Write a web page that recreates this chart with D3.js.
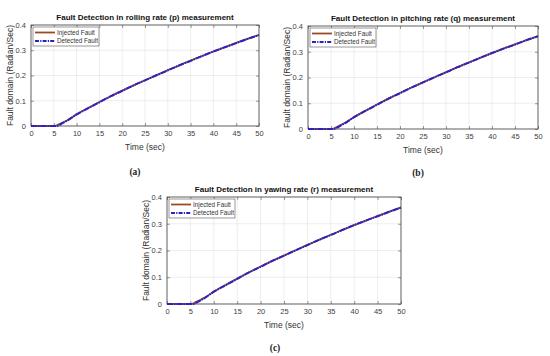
<!DOCTYPE html>
<html>
<head>
<meta charset="utf-8">
<script src="https://cdnjs.cloudflare.com/ajax/libs/d3/7.8.5/d3.min.js"></script>
<style>
  body { margin: 0; background: #fff; }
  svg { font-family: "Liberation Sans", Arial, sans-serif; }
  .tick text { fill: #404040; font-size: 7.5px; }
  .grid line { stroke: #e3e3e3; stroke-width: 0.6; }
</style>
</head>
<body>
<div id="chart"></div>
<script>
// time axis (sec)
var time = [0, 2, 4, 5, 5.5, 6, 7, 8, 10, 12.5, 15, 17.5, 20, 22.5, 25, 27.5, 30, 32.5, 35, 37.5, 40, 42.5, 45, 47.5, 50];
// injected fault (Radian/Sec)
var injected = [0, 0, 0, 0, 0.001, 0.006, 0.014, 0.023, 0.046, 0.071, 0.095, 0.118, 0.14, 0.161, 0.181, 0.201, 0.221, 0.24, 0.259, 0.277, 0.295, 0.312, 0.329, 0.345, 0.361];
// detected fault (Radian/Sec)
var detected = [0, 0, 0, 0, 0, 0.002, 0.012, 0.022, 0.046, 0.07, 0.094, 0.118, 0.139, 0.161, 0.181, 0.201, 0.22, 0.24, 0.258, 0.277, 0.295, 0.312, 0.328, 0.345, 0.36];

var xTicks = [0, 5, 10, 15, 20, 25, 30, 35, 40, 45, 50];
var yTicks = [0, 0.1, 0.2, 0.3, 0.4];

var panels = [
  { title: "Fault Detection in rolling rate (p) measurement", tag: "(a)", left: 31, top: 25, w: 228, h: 101, tagX: 135, tagY: 175 },
  { title: "Fault Detection in pitching rate (q) measurement", tag: "(b)", left: 308, top: 26, w: 230, h: 103, tagX: 418, tagY: 176 },
  { title: "Fault Detection in yawing rate (r) measurement", tag: "(c)", left: 167, top: 197, w: 234, h: 107, tagX: 275, tagY: 351 }
];

var svg = d3.select("#chart").append("svg")
  .attr("width", 550)
  .attr("height", 356);

function drawPanel(p) {
  var g = svg.append("g").attr("transform", "translate(" + p.left + "," + p.top + ")");
  var x = d3.scaleLinear().domain([0, 50]).range([0, p.w]);
  var y = d3.scaleLinear().domain([0, 0.4]).range([p.h, 0]);

  // grid
  g.append("g").attr("class", "grid")
    .selectAll("line.v").data(xTicks).enter().append("line")
    .attr("x1", function (d) { return x(d); }).attr("x2", function (d) { return x(d); })
    .attr("y1", 0).attr("y2", p.h);
  g.append("g").attr("class", "grid")
    .selectAll("line.h").data(yTicks).enter().append("line")
    .attr("x1", 0).attr("x2", p.w)
    .attr("y1", function (d) { return y(d); }).attr("y2", function (d) { return y(d); });

  var xa = g.append("g").attr("transform", "translate(0," + p.h + ")")
    .call(d3.axisBottom(x).tickValues(xTicks).tickSize(-3).tickPadding(5).tickFormat(d3.format("d")));
  var ya = g.append("g")
    .call(d3.axisLeft(y).tickValues(yTicks).tickSize(-3).tickPadding(5).tickFormat(function (d) { return d === 0 ? "0" : d3.format(".1f")(d); }));
  [xa, ya].forEach(function (a) {
    a.select(".domain").remove();
    a.selectAll(".tick line").attr("stroke", "#555").attr("stroke-width", 0.6);
  });
  // top ticks / right ticks
  g.append("g").call(d3.axisTop(x).tickValues(xTicks).tickSize(-3).tickFormat(""))
    .call(function (s) { s.select(".domain").remove(); s.selectAll("line").attr("stroke", "#555").attr("stroke-width", 0.6); });
  g.append("g").attr("transform", "translate(" + p.w + ",0)")
    .call(d3.axisRight(y).tickValues(yTicks).tickSize(-3).tickFormat(""))
    .call(function (s) { s.select(".domain").remove(); s.selectAll("line").attr("stroke", "#555").attr("stroke-width", 0.6); });

  g.append("rect").attr("width", p.w).attr("height", p.h)
    .attr("fill", "none").attr("stroke", "#444").attr("stroke-width", 0.8);

  var line = d3.line()
    .x(function (d) { return x(d[0]); })
    .y(function (d) { return y(d[1]); })
    .curve(d3.curveMonotoneX);

  g.append("path").datum(d3.zip(time, injected))
    .attr("d", line).attr("fill", "none")
    .attr("stroke", "#9b4a2a").attr("stroke-width", 1.8);
  g.append("path").datum(d3.zip(time, detected))
    .attr("d", line).attr("fill", "none")
    .attr("stroke", "#2a22c8").attr("stroke-width", 2)
    .attr("stroke-dasharray", "6,1,1.5,1");

  // legend
  var lg = g.append("g").attr("transform", "translate(2,2)");
  lg.append("rect").attr("width", 66).attr("height", 19)
    .attr("fill", "#fff").attr("stroke", "#555").attr("stroke-width", 0.6);
  var items = [
    { name: "Injected Fault", color: "#9b4a2a", dash: null },
    { name: "Detected Fault", color: "#2a22c8", dash: "4,1.2,1.2,1.2" }
  ];
  items.forEach(function (it, i) {
    var yy = 5.5 + i * 8.5;
    lg.append("line").attr("x1", 2).attr("x2", 22).attr("y1", yy).attr("y2", yy)
      .attr("stroke", it.color).attr("stroke-width", 1.8)
      .attr("stroke-dasharray", it.dash);
    lg.append("text").attr("x", 24).attr("y", yy + 2.2)
      .attr("font-size", 6.3).attr("fill", "#333").text(it.name);
  });

  // title and labels
  g.append("text").attr("x", p.w / 2).attr("y", -5)
    .attr("text-anchor", "middle").attr("font-size", 8).attr("font-weight", "bold")
    .attr("fill", "#111").text(p.title);
  g.append("text").attr("x", p.w / 2).attr("y", p.h + 24)
    .attr("text-anchor", "middle").attr("font-size", 8.5).attr("fill", "#333")
    .text("Time (sec)");
  g.append("text").attr("transform", "translate(-18," + (p.h / 2) + ") rotate(-90)")
    .attr("text-anchor", "middle").attr("font-size", 8.5).attr("fill", "#333")
    .text("Fault domain (Radian/Sec)");

  svg.append("text").attr("x", p.tagX).attr("y", p.tagY)
    .attr("text-anchor", "middle").attr("font-size", 9.5).attr("font-weight", "bold")
    .attr("font-family", "Liberation Serif, serif").attr("fill", "#222").text(p.tag);
}

panels.forEach(drawPanel);
</script>
</body>
</html>
